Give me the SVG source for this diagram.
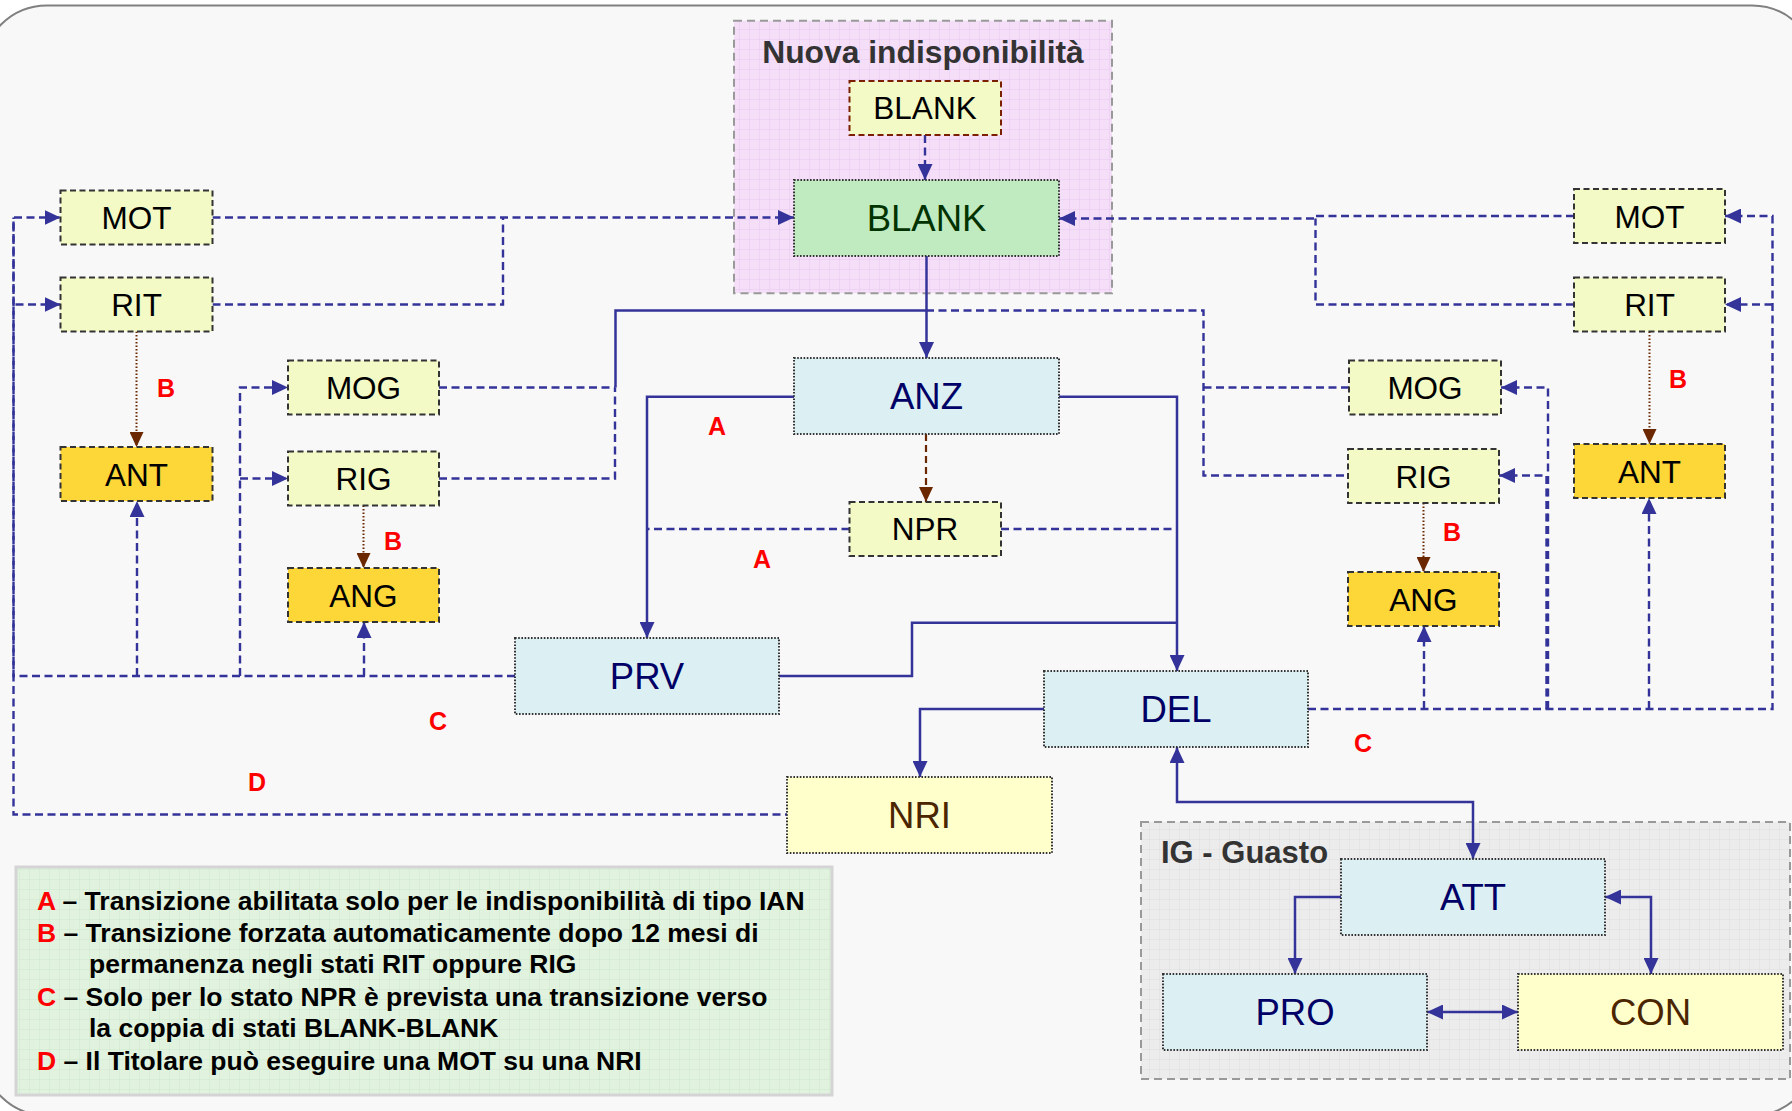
<svg xmlns="http://www.w3.org/2000/svg" width="1792" height="1111" viewBox="0 0 1792 1111">
  <defs>
    <pattern id="gridPink" width="10" height="10" patternUnits="userSpaceOnUse">
      <rect width="10" height="10" fill="#f4def8"/>
      <path d="M10,0 V10 M0,10 H10" stroke="#ebc8f3" stroke-width="1" fill="none"/>
    </pattern>
    <pattern id="gridGray" width="10" height="10" patternUnits="userSpaceOnUse">
      <rect width="10" height="10" fill="#ececec"/>
      <path d="M10,0 V10 M0,10 H10" stroke="#dedede" stroke-width="1" fill="none"/>
    </pattern>
    <pattern id="gridGreen" width="10" height="10" patternUnits="userSpaceOnUse">
      <rect width="10" height="10" fill="#e1f3df"/>
      <path d="M10,0 V10 M0,10 H10" stroke="#cfe8cc" stroke-width="1" fill="none"/>
    </pattern>
    <marker id="arr" viewBox="0 0 16 15" markerWidth="16" markerHeight="15" refX="16" refY="7.5" orient="auto-start-reverse" markerUnits="userSpaceOnUse">
      <path d="M0,0 L16,7.5 L0,15 z" fill="#333399"/>
    </marker>
    <marker id="arrBrown" viewBox="0 0 15 14" markerWidth="15" markerHeight="14" refX="15" refY="7" orient="auto" markerUnits="userSpaceOnUse">
      <path d="M0,0 L15,7 L0,14 z" fill="#6b2800"/>
    </marker>
  </defs>
  <style>
    .lbl { font-family: "Liberation Sans", Arial, sans-serif; text-anchor: middle; }
    .sm { font-size: 31.5px; fill: #000; }
    .lg { font-size: 36.5px; }
    .navy { fill: #000066; }
    .dkgreen { fill: #003300; }
    .brown { fill: #4a2500; }
    .boxDash { stroke: #333; stroke-width: 2; stroke-dasharray: 6 3.5; }
    .boxDot { stroke: #333; stroke-width: 2; stroke-dasharray: 1.6 1.6; }
    .yg { fill: #f3fac6; }
    .gold { fill: #fdd638; }
    .cyan { fill: #dcf0f3; }
    .green { fill: #c0eac0; }
    .pale { fill: #ffffcc; }
    .dash { fill: none; stroke: #333399; stroke-width: 2.4; stroke-dasharray: 8 4.5; }
    .solid { fill: none; stroke: #333399; stroke-width: 2.5; }
    .dotB { fill: none; stroke: #6b2800; stroke-width: 2; stroke-dasharray: 1.5 2; }
    .dashB { fill: none; stroke: #6b2800; stroke-width: 2.2; stroke-dasharray: 7 4; }
    .tag { font-family: "Liberation Sans", Arial, sans-serif; font-weight: bold; font-size: 25px; fill: #ff0000; }
    .gtitle { font-family: "Liberation Sans", Arial, sans-serif; font-weight: bold; font-size: 31px; fill: #333; }
    .legend { font-family: "Liberation Sans", Arial, sans-serif; font-weight: bold; font-size: 26.5px; fill: #000; }
    .red { fill: #ff0000; }
  </style>

  <!-- page background and rounded frame -->
  <rect x="0" y="0" width="1792" height="1111" fill="#ffffff"/>
  <rect x="-18" y="5.5" width="1835" height="1110" rx="65" ry="65" fill="#f8f8f8" stroke="#808080" stroke-width="2"/>

  <!-- containers -->
  <g id="group-nuova">
    <rect x="734" y="20.7" width="378" height="272.5" fill="url(#gridPink)" stroke="#999" stroke-width="2" stroke-dasharray="8 5"/>
    <text class="gtitle" x="923" y="63" text-anchor="middle" style="font-size:31.8px">Nuova indisponibilità</text>
  </g>
  <g id="group-ig">
    <rect x="1141" y="822" width="649" height="257" fill="url(#gridGray)" stroke="#999" stroke-width="2" stroke-dasharray="8 5"/>
    <text class="gtitle" x="1161" y="863">IG - Guasto</text>
  </g>

  <!-- connectors -->
  <g id="connectors">
    <!-- new BLANK -> BLANK -->
    <path class="dash" d="M925,135 V180" marker-end="url(#arr)"/>
    <!-- BLANK -> ANZ -->
    <path class="solid" d="M926.5,256 V358" stroke-width="3" marker-end="url(#arr)"/>
    <!-- ANZ -> PRV / DEL -->
    <path class="solid" d="M794,396.7 H647 V638" marker-end="url(#arr)"/>
    <path class="solid" d="M1059,396.7 H1177 V671" marker-end="url(#arr)"/>
    <!-- ANZ -> NPR -->
    <path class="dashB" d="M926,434 V502" marker-end="url(#arrBrown)"/>
    <!-- NPR -> PRV / DEL -->
    <path class="dash" d="M849.5,529 H647"/>
    <path class="dash" d="M1001,529 H1177"/>
    <!-- PRV -> DEL -->
    <path class="solid" d="M779,676 H912 V622.7 H1177"/>
    <!-- DEL -> NRI -->
    <path class="solid" d="M1044,709 H920 V777" marker-end="url(#arr)"/>
    <!-- DEL <-> ATT -->
    <path class="solid" d="M1177,747 V802 H1473 V859" marker-start="url(#arr)" marker-end="url(#arr)"/>
    <!-- inside IG -->
    <path class="solid" d="M1341,897 H1295 V974" marker-end="url(#arr)"/>
    <path class="solid" d="M1605,897 H1651 V974" marker-start="url(#arr)" marker-end="url(#arr)"/>
    <path class="solid" d="M1427,1012 H1518" marker-start="url(#arr)" marker-end="url(#arr)"/>

    <!-- left MOT / RIT -> BLANK -->
    <path class="dash" d="M212.5,217.5 H794" marker-end="url(#arr)"/>
    <path class="dash" d="M212.5,304.5 H503 V217.5"/>
    <!-- right MOT / RIT -> BLANK -->
    <path class="dash" d="M1574,216 H1315.5 V218.5 H1059" marker-end="url(#arr)"/>
    <path class="dash" d="M1574,304.5 H1315.5 V218.5"/>

    <!-- MOG / RIG -> ANZ -->
    <path class="dash" d="M439,387.5 H615"/>
    <path class="dash" d="M439,478.5 H615 V387.5"/>
    <path class="solid" d="M615.5,387.5 V310.5 H926" stroke-width="2"/>
    <path class="dash" d="M926,310.5 H1203.5 V475.5 H1348"/>
    <path class="dash" d="M1203.5,387.5 H1349"/>

    <!-- PRV -> MOT / RIT / ANT / MOG / RIG / ANG -->
    <path class="dash" d="M515,676 H13.5 V304.5 H60.5" marker-end="url(#arr)"/>
    <path class="dash" d="M13.5,304.5 V217.5 H60.5" marker-end="url(#arr)"/>
    <path class="dash" d="M137,676 V501" marker-end="url(#arr)"/>
    <path class="dash" d="M240,676 V387.5 H288" marker-end="url(#arr)"/>
    <path class="dash" d="M240,478.5 H288" marker-end="url(#arr)"/>
    <path class="dash" d="M364,676 V622" marker-end="url(#arr)"/>
    <!-- NRI -> MOT -->
    <path class="dash" d="M787,814.5 H13.5 V217.5" stroke-dashoffset="6"/>

    <!-- DEL -> MOT / RIT / ANT / MOG / RIG / ANG -->
    <path class="dash" d="M1308,709 H1772.5 V216 H1725" marker-end="url(#arr)"/>
    <path class="dash" d="M1772.5,304.5 H1725" marker-end="url(#arr)"/>
    <path class="dash" d="M1424,709 V626" marker-end="url(#arr)"/>
    <path class="dash" d="M1649,709 V498" marker-end="url(#arr)"/>
    <path class="dash" d="M1548,709 V387.5 H1501" marker-end="url(#arr)"/>
    <path class="dash" d="M1546.5,709 V475.5 H1499" marker-end="url(#arr)"/>

    <!-- forced transitions after 12 months -->
    <path class="dotB" d="M136.5,331.5 V447" marker-end="url(#arrBrown)"/>
    <path class="dotB" d="M363.5,505.5 V568" marker-end="url(#arrBrown)"/>
    <path class="dotB" d="M1649.5,331.5 V444" marker-end="url(#arrBrown)"/>
    <path class="dotB" d="M1423.5,503 V572" marker-end="url(#arrBrown)"/>
  </g>

  <!-- transition tags -->
  <g id="tags">
    <text class="tag" x="157" y="397">B</text>
    <text class="tag" x="384" y="550">B</text>
    <text class="tag" x="1669" y="388">B</text>
    <text class="tag" x="1443" y="540.5">B</text>
    <text class="tag" x="708" y="435">A</text>
    <text class="tag" x="753" y="567.5">A</text>
    <text class="tag" x="429" y="730">C</text>
    <text class="tag" x="1354" y="751.5">C</text>
    <text class="tag" x="248" y="791">D</text>
  </g>

  <!-- states -->
  <g id="node-blank-new">
    <rect x="849.5" y="81" width="151.5" height="54" fill="#f3fac6" stroke="#7a2000" stroke-width="2" stroke-dasharray="6 3.5"/>
    <text class="lbl sm" x="925" y="119">BLANK</text>
  </g>
  <g id="node-blank">
    <rect class="green boxDot" x="794" y="180" width="265" height="76"/>
    <text class="lbl lg dkgreen" x="926.5" y="231">BLANK</text>
  </g>
  <g id="node-anz">
    <rect class="cyan boxDot" x="794" y="358" width="265" height="76"/>
    <text class="lbl lg navy" x="926.5" y="409">ANZ</text>
  </g>
  <g id="node-npr">
    <rect class="yg boxDash" x="849.5" y="502" width="151.5" height="54"/>
    <text class="lbl sm" x="925" y="540">NPR</text>
  </g>
  <g id="node-prv">
    <rect class="cyan boxDot" x="515" y="638" width="264" height="76"/>
    <text class="lbl lg navy" x="647" y="689">PRV</text>
  </g>
  <g id="node-del">
    <rect class="cyan boxDot" x="1044" y="671" width="264" height="76"/>
    <text class="lbl lg navy" x="1176" y="722">DEL</text>
  </g>
  <g id="node-nri">
    <rect class="pale boxDot" x="787" y="777" width="265" height="76"/>
    <text class="lbl lg brown" x="919.5" y="828">NRI</text>
  </g>

  <g id="node-mot-l">
    <rect class="yg boxDash" x="60.5" y="190.5" width="152" height="54"/>
    <text class="lbl sm" x="136.5" y="229">MOT</text>
  </g>
  <g id="node-rit-l">
    <rect class="yg boxDash" x="60.5" y="277.5" width="152" height="54"/>
    <text class="lbl sm" x="136.5" y="316">RIT</text>
  </g>
  <g id="node-ant-l">
    <rect class="gold boxDash" x="60.5" y="447" width="152" height="54"/>
    <text class="lbl sm" x="136.5" y="485.5">ANT</text>
  </g>
  <g id="node-mog-l">
    <rect class="yg boxDash" x="288" y="360.5" width="151" height="54"/>
    <text class="lbl sm" x="363.5" y="399">MOG</text>
  </g>
  <g id="node-rig-l">
    <rect class="yg boxDash" x="288" y="451.5" width="151" height="54"/>
    <text class="lbl sm" x="363.5" y="490">RIG</text>
  </g>
  <g id="node-ang-l">
    <rect class="gold boxDash" x="288" y="568" width="151" height="54"/>
    <text class="lbl sm" x="363.5" y="606.5">ANG</text>
  </g>

  <g id="node-mot-r">
    <rect class="yg boxDash" x="1574" y="189" width="151" height="54"/>
    <text class="lbl sm" x="1649.5" y="227.5">MOT</text>
  </g>
  <g id="node-rit-r">
    <rect class="yg boxDash" x="1574" y="277.5" width="151" height="54"/>
    <text class="lbl sm" x="1649.5" y="316">RIT</text>
  </g>
  <g id="node-ant-r">
    <rect class="gold boxDash" x="1574" y="444" width="151" height="54"/>
    <text class="lbl sm" x="1649.5" y="482.5">ANT</text>
  </g>
  <g id="node-mog-r">
    <rect class="yg boxDash" x="1349" y="360.5" width="152" height="54"/>
    <text class="lbl sm" x="1425" y="399">MOG</text>
  </g>
  <g id="node-rig-r">
    <rect class="yg boxDash" x="1348" y="449" width="151" height="54"/>
    <text class="lbl sm" x="1423.5" y="487.5">RIG</text>
  </g>
  <g id="node-ang-r">
    <rect class="gold boxDash" x="1348" y="572" width="151" height="54"/>
    <text class="lbl sm" x="1423.5" y="610.5">ANG</text>
  </g>

  <g id="node-att">
    <rect class="cyan boxDot" x="1341" y="859" width="264" height="76"/>
    <text class="lbl lg navy" x="1473" y="910">ATT</text>
  </g>
  <g id="node-pro">
    <rect class="cyan boxDot" x="1163" y="974" width="264" height="76"/>
    <text class="lbl lg navy" x="1295" y="1025">PRO</text>
  </g>
  <g id="node-con">
    <rect class="pale boxDot" x="1518" y="974" width="265" height="76"/>
    <text class="lbl lg brown" x="1650.5" y="1025">CON</text>
  </g>

  <!-- legend -->
  <g id="legend">
    <rect x="16" y="867" width="816" height="228" fill="url(#gridGreen)" stroke="#d4d4d4" stroke-width="3"/>
    <text class="legend" x="37" y="910"><tspan class="red">A</tspan> – Transizione abilitata solo per le indisponibilità di tipo IAN</text>
    <text class="legend" x="37" y="941.5"><tspan class="red">B</tspan> – Transizione forzata automaticamente dopo 12 mesi di</text>
    <text class="legend" x="89" y="973">permanenza negli stati RIT oppure RIG</text>
    <text class="legend" x="37" y="1005.5"><tspan class="red">C</tspan> – Solo per lo stato NPR è prevista una transizione verso</text>
    <text class="legend" x="89" y="1037">la coppia di stati BLANK-BLANK</text>
    <text class="legend" x="37" y="1069.5"><tspan class="red">D</tspan> – Il Titolare può eseguire una MOT su una NRI</text>
  </g>
</svg>
